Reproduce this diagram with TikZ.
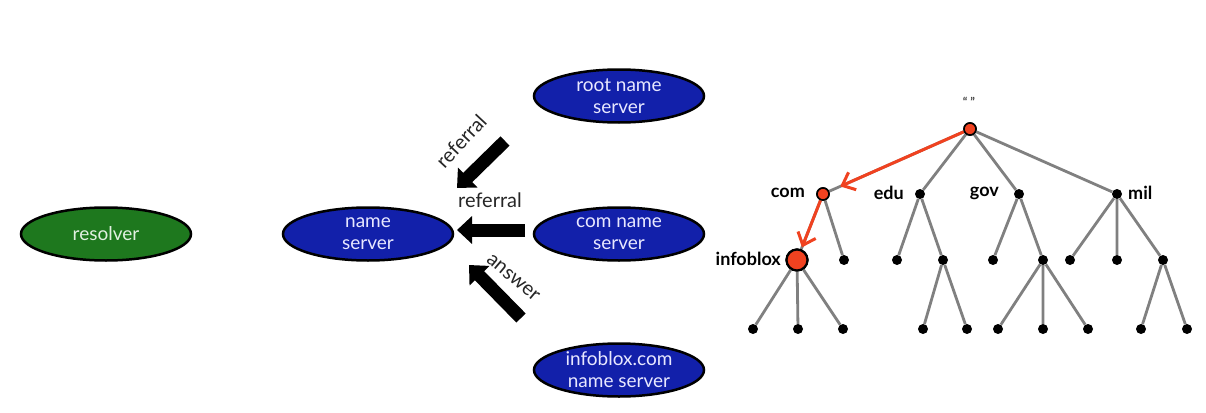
\documentclass[tikz,border=0pt]{standalone}
\usepackage{fontspec}
\setmainfont{Lato}
\usetikzlibrary{arrows.meta,shapes.geometric}
\definecolor{nsblue}{RGB}{18,32,170}
\definecolor{resgreen}{RGB}{30,120,30}
\definecolor{nstext}{RGB}{232,232,255}
\definecolor{restext}{RGB}{225,240,225}
\definecolor{treered}{RGB}{240,66,32}
\definecolor{edgegrey}{RGB}{128,128,128}
\begin{document}
\begin{tikzpicture}[x=1pt,y=-1pt,
  server/.style={ellipse,draw=black,line width=2.5pt,fill=nsblue,text=nstext,
    minimum width=170pt,minimum height=53pt,inner sep=0pt,align=center,
    font=\fontsize{19}{22}\selectfont},
  resolverbox/.style={server,fill=resgreen,text=restext},
  bigarrow/.style={line width=13pt,-{Triangle[length=15pt,width=27pt]}},
  arrowlabel/.style={font=\fontsize{20}{24}\selectfont,text=black!85,inner sep=0pt},
  leaf/.style={circle,fill=black,minimum size=10pt,inner sep=0pt},
  rednode/.style={circle,fill=treered,draw=black,line width=1.6pt,minimum size=12pt,inner sep=0pt},
  bigred/.style={rednode,line width=2.2pt,minimum size=21pt},
  edge/.style={draw=edgegrey,line width=2.8pt},
  redarrow/.style={draw=treered,line width=3pt,-{Straight Barb[length=11pt,width=19pt]}},
  treelabel/.style={font=\bfseries\fontsize{18}{21}\selectfont,inner sep=0pt}
]
\useasboundingbox (0,0) rectangle (1206,412);

% servers
\node[resolverbox] (resolver) at (106,234) {resolver};
\node[server] (ns) at (368,234) {name\\server};
\node[server] (root) at (619,96) {root name\\server};
\node[server] (comns) at (619,234) {com name\\server};
\node[server] (infons) at (619,370) {infoblox.com\\name server};

% black arrows
\coordinate (a1s) at (505,141);
\coordinate (a1e) at (457,188);
\coordinate (a2s) at (525,230);
\coordinate (a2e) at (457,230);
\coordinate (a3s) at (521,318);
\coordinate (a3e) at (469,265);
\draw[bigarrow] (a1s) -- (a1e);
\draw[bigarrow] (a2s) -- (a2e);
\draw[bigarrow] (a3s) -- (a3e);
\node[arrowlabel,rotate=47] (l1) at (461,141) {referral};
\node[arrowlabel] (l2) at (490,200) {referral};
\node[arrowlabel,rotate=-40] (l3) at (513,278) {answer};

% tree nodes
\node[rednode] (R) at (970,129) {};
\node[rednode] (C) at (823,194) {};
\node[leaf] (E) at (920,194) {};
\node[leaf] (G) at (1019,194) {};
\node[leaf] (M) at (1117,194) {};
\node[bigred] (I) at (797,260) {};
\node[leaf] (C2) at (844,260) {};
\node[leaf] (E1) at (897,260) {};
\node[leaf] (E2) at (943,260) {};
\node[leaf] (G1) at (993,260) {};
\node[leaf] (G2) at (1043,260) {};
\node[leaf] (M1) at (1070,260) {};
\node[leaf] (M2) at (1117,260) {};
\node[leaf] (M3) at (1163,260) {};
\node[leaf] (I1) at (753,329) {};
\node[leaf] (I2) at (798,329) {};
\node[leaf] (I3) at (843,329) {};
\node[leaf] (E21) at (923,329) {};
\node[leaf] (E22) at (967,329) {};
\node[leaf] (G21) at (998,329) {};
\node[leaf] (G22) at (1043,329) {};
\node[leaf] (G23) at (1088,329) {};
\node[leaf] (M31) at (1141,329) {};
\node[leaf] (M32) at (1187,329) {};

% tree edges
\draw[edge] (R) -- (C) (R) -- (E) (R) -- (G) (R) -- (M);
\draw[edge] (C) -- (I) (C) -- (C2);
\draw[edge] (E) -- (E1) (E) -- (E2);
\draw[edge] (G) -- (G1) (G) -- (G2);
\draw[edge] (M) -- (M1) (M) -- (M2) (M) -- (M3);
\draw[edge] (I) -- (I1) (I) -- (I2) (I) -- (I3);
\draw[edge] (E2) -- (E21) (E2) -- (E22);
\draw[edge] (G2) -- (G21) (G2) -- (G22) (G2) -- (G23);
\draw[edge] (M3) -- (M31) (M3) -- (M32);
\draw[redarrow,shorten >=12pt] (R) -- (C);
\draw[redarrow,shorten >=2pt] (C) -- (I);
% redraw nodes on top
\node[rednode] at (R) {};
\node[rednode] at (C) {};
\node[bigred] at (I) {};

% labels
\node[font=\bfseries\fontsize{12}{13}\selectfont,text=black!75,inner sep=0pt] (quotes) at (969,102) {“ ”};
\node[treelabel,anchor=east] (lcom) at (805,193) {com};
\node[treelabel,anchor=east] (ledu) at (904,193) {edu};
\node[treelabel,anchor=east] (lgov) at (999,193) {gov};
\node[treelabel,anchor=west] (lmil) at (1128,193) {mil};
\node[treelabel,anchor=east] (linf) at (781,259) {infoblox};
\end{tikzpicture}
\end{document}
